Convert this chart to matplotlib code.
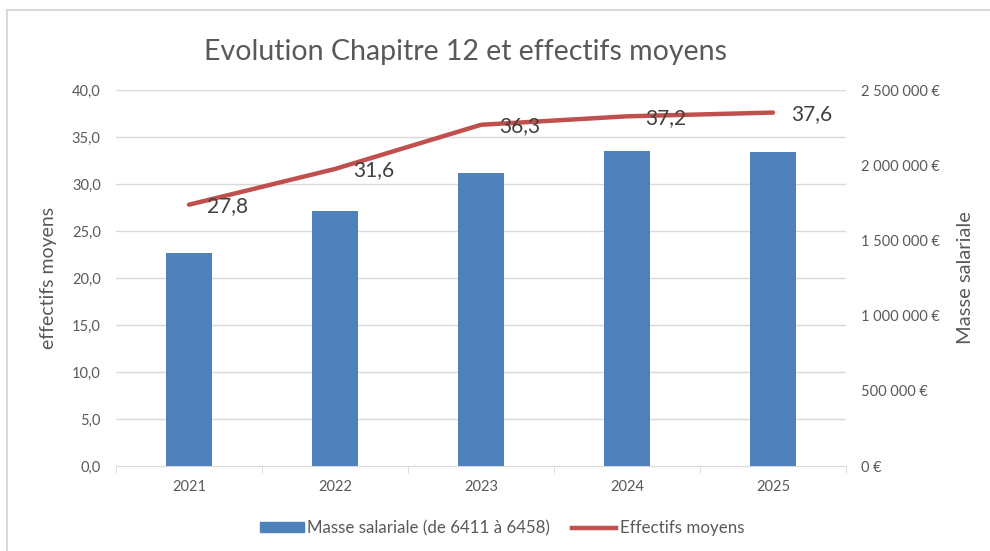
import numpy as np
import matplotlib.pyplot as plt
from matplotlib.lines import Line2D
from matplotlib.patches import Patch
from matplotlib.ticker import FuncFormatter

years = ["2021", "2022", "2023", "2024", "2025"]
masse_salariale = [1414000, 1695000, 1950000, 2096000, 2086000]
effectifs = [27.8, 31.6, 36.3, 37.2, 37.6]

plt.rcParams['font.family'] = ['Lato', 'DejaVu Sans']
GRAY = '#595959'
BLUE = '#4F81BD'
RED = '#C0504D'
W, H = 990, 551

fig = plt.figure(figsize=(9.9, 5.51), dpi=100)
ax = fig.add_axes([116 / W, (H - 466) / H, 730 / W, 376 / H])
ax2 = ax.twinx()

x = np.arange(len(years))

# bars on the secondary (right) axis, line on the primary axis
ax2.bar(x, masse_salariale, width=0.32, color=BLUE, zorder=2)
ax.set_zorder(ax2.get_zorder() + 1)
ax.patch.set_visible(False)
ax.plot(x, effectifs, color=RED, lw=3.2, solid_capstyle='round', zorder=3)
for xi, v in zip(x, effectifs):
    ax.annotate(f"{v:.1f}".replace('.', ','), (xi, v), xytext=(13, -1),
                textcoords='offset points', ha='left', va='center',
                fontsize=15, color='#404040')

ax.set_xlim(-0.5, len(years) - 0.5)
ax.set_ylim(0, 40)
ax.set_yticks(np.arange(0, 41, 5))
ax.yaxis.set_major_formatter(FuncFormatter(lambda v, p: f"{v:.1f}".replace('.', ',')))
ax2.set_ylim(0, 2500000)
ax2.set_yticks(np.arange(0, 2500001, 500000))
ax2.yaxis.set_major_formatter(
    FuncFormatter(lambda v, p: f"{int(v):,}".replace(',', '\u202f') + '\u202f€' if v else '0\u202f€'))

# gridlines drawn on the bar axis so they sit under the bars
for g in np.arange(5, 41, 5):
    ax2.axhline(g / 40 * 2500000, color='#D9D9D9', lw=1, zorder=1)

for a in (ax, ax2):
    for s in ('top', 'left', 'right', 'bottom'):
        a.spines[s].set_visible(False)
    a.tick_params(axis='y', length=0, labelsize=10.5, labelcolor=GRAY)
ax.spines['bottom'].set_visible(True)
ax.spines['bottom'].set_color('#D9D9D9')
ax.tick_params(axis='y', pad=11)
ax2.tick_params(axis='y', pad=11)

ax.set_xticks(x)
ax.set_xticklabels(years)
ax.tick_params(axis='x', length=0, labelsize=10.5, labelcolor=GRAY, pad=10)
ax.set_xticks(np.arange(-0.5, len(years), 1), minor=True)
ax.tick_params(axis='x', which='minor', length=5, color='#D9D9D9')

ax.set_ylabel("effectifs moyens", fontsize=14, color=GRAY, labelpad=11)
ax2.set_ylabel("Masse salariale", fontsize=14.5, color=GRAY, labelpad=12)

fig.text(466 / W, 1 - 52 / H, "Evolution Chapitre 12 et effectifs moyens",
         ha='center', va='center', fontsize=20.5, color=GRAY)

handles = [Patch(color=BLUE), Line2D([0], [0], color=RED, lw=3.2)]
fig.legend(handles, ["Masse salariale (de 6411 à 6458)", "Effectifs moyens"],
           loc='center', bbox_to_anchor=(502 / W, 1 - 528 / H), ncol=2,
           frameon=False, fontsize=12.2, labelcolor=GRAY, handlelength=2.6,
           handleheight=0.5, handletextpad=0.2, columnspacing=1.3)

# chart frame (only left and top edges are visible in the crop)
fig.add_artist(Line2D([7 / W, 7 / W], [0, 1 - 10 / H], color='#D9D9D9', lw=1.5,
                      transform=fig.transFigure))
fig.add_artist(Line2D([7 / W, 1], [1 - 10 / H, 1 - 10 / H], color='#D9D9D9', lw=1.5,
                      transform=fig.transFigure))

fig.savefig("out.png", dpi=100)
